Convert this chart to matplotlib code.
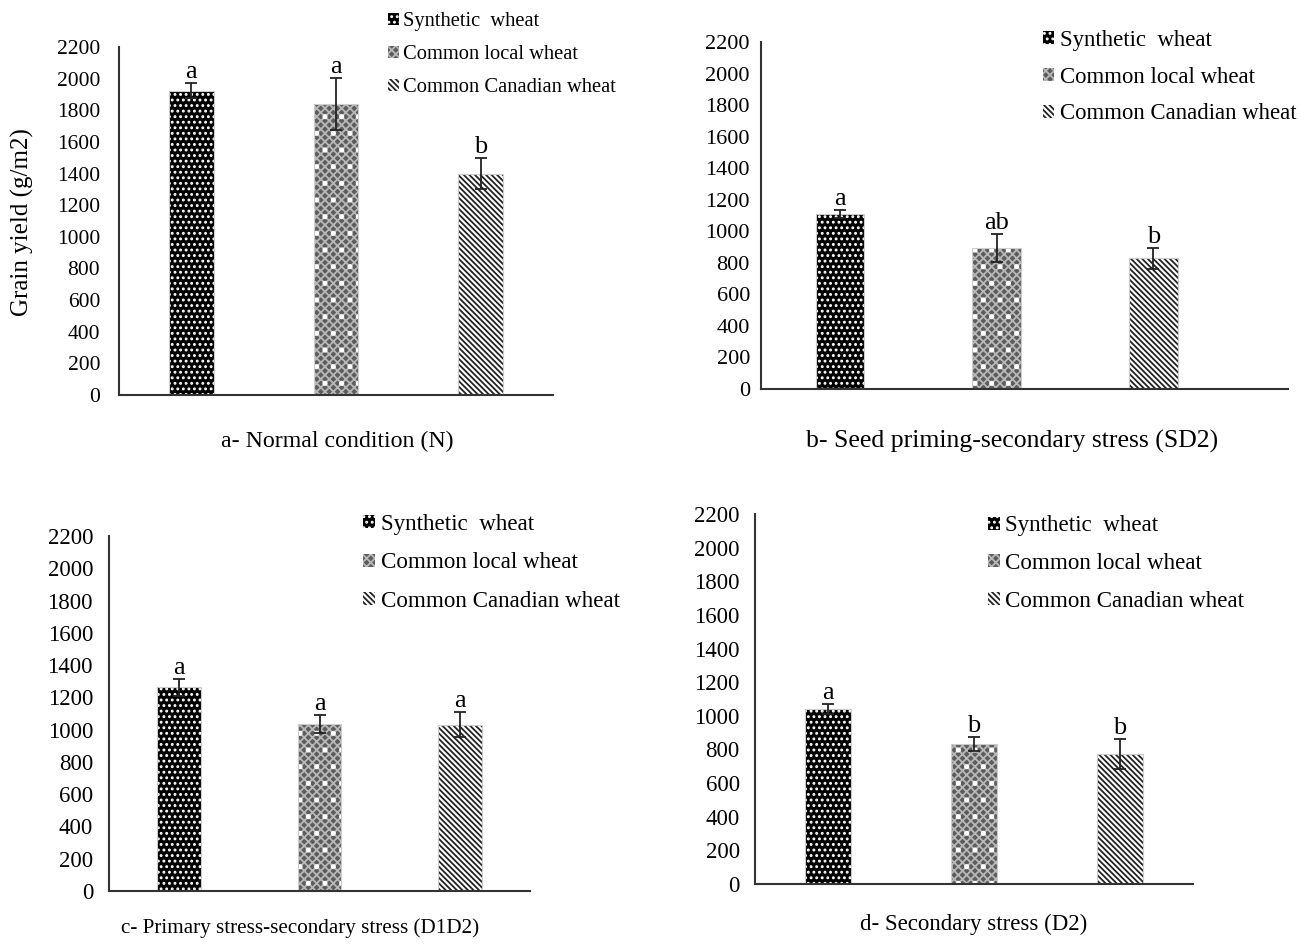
import matplotlib.pyplot as plt
import numpy as np

plt.rcParams['font.family'] = ['Liberation Serif', 'DejaVu Serif']
plt.rcParams['hatch.linewidth'] = 1.3

groups = ['Synthetic  wheat', 'Common local wheat', 'Common Canadian wheat']

# grain yield means and error per panel
yield_n = [1925, 1840, 1400]
err_n = [50, 165, 100]
sig_n = ['a', 'a', 'b']

yield_sd2 = [1110, 895, 830]
err_sd2 = [25, 88, 67]
sig_sd2 = ['a', 'ab', 'b']

yield_d1d2 = [1262, 1037, 1031]
err_d1d2 = [52, 55, 78]
sig_d1d2 = ['a', 'a', 'a']

yield_d2 = [1040, 833, 774]
err_d2 = [30, 42, 90]
sig_d2 = ['a', 'b', 'b']

captions = ['a- Normal condition (N)',
            'b- Seed priming-secondary stress (SD2)',
            'c- Primary stress-secondary stress (D1D2)',
            'd- Secondary stress (D2)']

W, H = 1300, 952
fig = plt.figure(figsize=(W / 100, H / 100), dpi=100)

def px_axes(left, right, bottom, top):
    return fig.add_axes([left / W, 1 - bottom / H, (right - left) / W, (bottom - top) / H])

# per-panel layout (pixels): left, right, baseline, top of y axis
boxes = [(119, 553, 395, 47), (761, 1288, 389, 42), (109, 530, 891, 536), (755, 1193, 884, 514)]
xlims = [(-0.5, 2.5), (-0.505, 2.86), (-0.5, 2.5), (-0.5, 2.5)]
tick_fs = [15.5, 16, 16.5, 16.5]
tick_pads = [13.5, 8, 11.5, 11]
legend_at = [(0.602, 1.123), (0.518, 1.061), (0.582, 1.088), (0.511, 1.021)]
legend_fs = [14.8, 16.4, 16.6, 16.6]
legend_tp = [0.2, 0.25, 0.25, 0.25]
legend_gap = [0.68, 0.69, 0.75, 0.72]
caption_at = [(337, 441), (1012, 441), (300, 928), (974, 924)]
caption_fs = [17.2, 18.5, 15.2, 16.5]
data = [(yield_n, err_n, sig_n), (yield_sd2, err_sd2, sig_sd2),
        (yield_d1d2, err_d1d2, sig_d1d2), (yield_d2, err_d2, sig_d2)]

x = np.arange(len(groups))
bw = 0.31
stripes = chr(92) * 6

for i, (box, (vals, errs, sigs)) in enumerate(zip(boxes, data)):
    ax = px_axes(*box)
    # synthetic: black with white dots
    b0 = ax.bar(x[0], vals[0], bw, color='black', edgecolor='white', hatch='...', lw=0)
    # local: grey checker with sparse white dots
    b1 = ax.bar(x[1], vals[1], bw, color='#5c5c5c', edgecolor='#b8b8b8', hatch='xxxx', lw=0)
    ax.bar(x[1], vals[1], bw, fill=False, edgecolor='white', hatch='.', lw=0)
    # canadian: white with diagonal black stripes
    b2 = ax.bar(x[2], vals[2], bw, color='white', edgecolor='#222222', hatch=stripes, lw=0)
    for b in (b0[0], b1[0], b2[0]):
        ax.add_patch(plt.Rectangle(b.get_xy(), b.get_width(), b.get_height(),
                                   fill=False, edgecolor='#cccccc', lw=0.8))
    ax.errorbar(x, vals, yerr=errs, fmt='none', ecolor='#222222', elinewidth=1.3,
                capsize=4.5, capthick=1.3)
    for xi, v, e, s in zip(x, vals, errs, sigs):
        ax.annotate(s, (xi, v + e), xytext=(0, 0), textcoords='offset points',
                    ha='center', va='bottom', fontsize=19)
    ax.set_xlim(*xlims[i])
    ax.set_ylim(0, 2200)
    ax.set_yticks(range(0, 2201, 200))
    ax.set_xticks([])
    ax.tick_params(axis='y', length=0, labelsize=tick_fs[i], pad=tick_pads[i])
    for side in ('top', 'right'):
        ax.spines[side].set_visible(False)
    for side in ('left', 'bottom'):
        ax.spines[side].set_color('#333333')
        ax.spines[side].set_linewidth(1.5)
    ax.legend([b0[0], b1[0], b2[0]], groups, loc='upper left', bbox_to_anchor=legend_at[i],
              frameon=False, fontsize=legend_fs[i], handlelength=0.5, handleheight=0.5,
              handletextpad=legend_tp[i], labelspacing=legend_gap[i], borderaxespad=0)
    fig.text(caption_at[i][0] / W, 1 - caption_at[i][1] / H, captions[i],
             ha='center', va='center', fontsize=caption_fs[i])

fig.text(22 / W, 1 - 222 / H, 'Grain yield (g/m2)', rotation=90,
         ha='center', va='center', fontsize=18)

fig.savefig('out.png', dpi=100)
